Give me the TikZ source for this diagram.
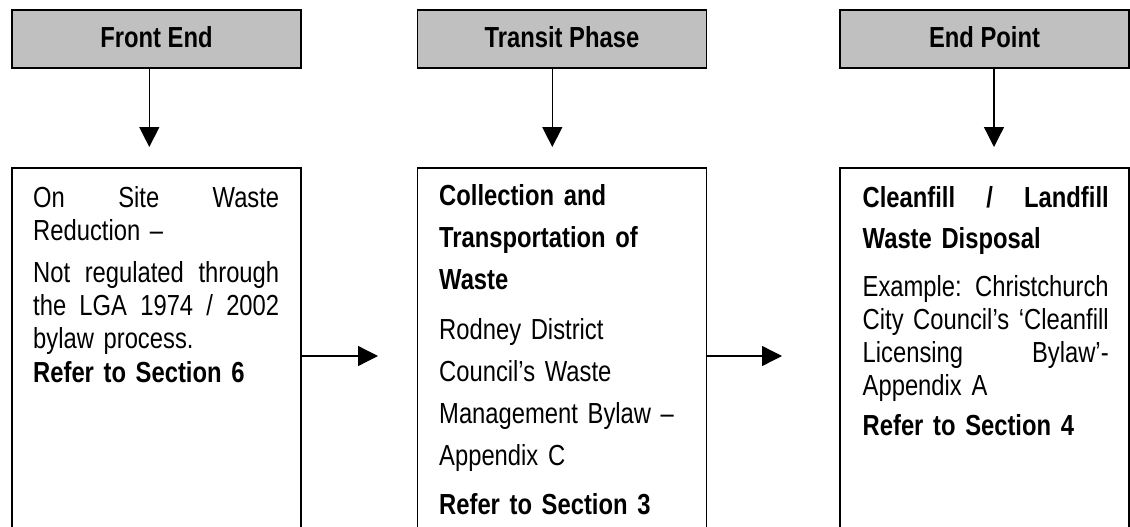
\documentclass[tikz,border=0pt]{standalone}
\usepackage{fontspec}
\setmainfont{Liberation Sans}[FakeStretch=0.82]
\usetikzlibrary{arrows.meta}
\definecolor{hdrgray}{RGB}{192,192,192}
\begin{document}
\begin{tikzpicture}[x=1pt,y=-1pt,
  hdr/.style={draw, line width=1.6pt, fill=hdrgray, minimum width=289pt, minimum height=58pt,
    inner sep=0pt, text height=17pt, text depth=0pt,
    font=\fontsize{29}{33.3}\selectfont\bfseries},
  bodybox/.style={draw, line width=1.6pt, minimum width=289pt, minimum height=376pt, inner sep=0pt},
  bodytxt/.style={anchor=base west, inner sep=0pt, text width=246pt, align=left},
  arr/.style={line width=1.3pt, -{Triangle[length=20pt,width=20pt]}}
]
\useasboundingbox (0,0) rectangle (1130,527);
\clip (0,0) rectangle (1130,527);

% headers
\node[hdr] (h1) at (156.5,39) {Front End};
\node[hdr] (h2) at (562,39) {Transit Phase};
\node[hdr] (h3) at (984.5,39) {End Point};

% body boxes
\node[bodybox] (b1) at (156.5,356) {};
\node[bodybox] (b2) at (562,356) {};
\node[bodybox] (b3) at (984.5,356) {};

% body texts
\node[bodytxt, font=\fontsize{29}{33.3}\selectfont] (t1) at (33,207) {%
On\hfill Site\hfill Waste\\
Reduction –\\[8.7pt]
Not\hfill regulated\hfill through\\
the\hfill LGA\hfill 1974\hfill /\hfill 2002\\
bylaw process.\\
\textbf{Refer to Section 6}};

\node[bodytxt, font=\fontsize{29}{42}\selectfont] (t2) at (439,205) {%
\textbf{Collection and}\\
\textbf{Transportation of}\\
\textbf{Waste}\\[8pt]
Rodney District\\
Council’s Waste\\
Management Bylaw –\\
Appendix C\\[7pt]
\textbf{Refer to Section 3}};

\node[bodytxt, font=\fontsize{29}{33.3}\selectfont] (t3) at (862.5,207) {%
\textbf{Cleanfill\hfill /\hfill Landfill}\\[7.7pt]
\textbf{Waste Disposal}\\[14.7pt]
Example:\hfill Christchurch\\
City\hfill Council’s\hfill ‘Cleanfill\\
Licensing\hfill Bylaw’-\\
Appendix A\\[6.7pt]
\textbf{Refer to Section 4}};

% arrow end points
\coordinate (v1) at (149.3,147);
\coordinate (v2) at (552.3,147);
\coordinate (v3) at (994,147);
\coordinate (c1) at (378,356);
\coordinate (c2) at (782,356);

% connectors
\draw[arr] (h1.south -| v1) -- (v1);
\draw[arr] (h2.south -| v2) -- (v2);
\draw[arr] (h3.south -| v3) -- (v3);
\draw[arr] (b1.east) -- (c1);
\draw[arr] (b2.east) -- (c2);
\end{tikzpicture}
\end{document}
